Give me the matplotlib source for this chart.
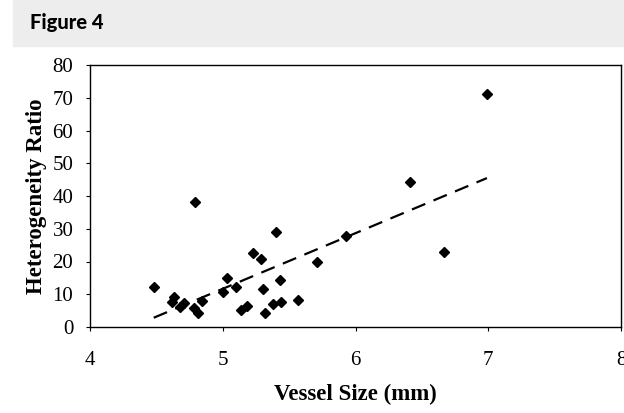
import matplotlib
matplotlib.use('Agg')
import matplotlib.pyplot as plt
import matplotlib.patches as mpatches
import numpy as np

# values
vessel_size = [4.48, 4.63, 4.62, 4.68, 4.71, 4.78, 4.81, 4.84, 4.79, 5.00,
               5.03, 5.10, 5.14, 5.18, 5.23, 5.29, 5.30, 5.32, 5.38, 5.40,
               5.43, 5.44, 5.57, 5.71, 5.93, 6.41, 6.67, 6.99]
het_ratio = [12.1, 9.3, 7.7, 6.2, 7.4, 5.7, 4.4, 8.0, 38.3, 10.8,
             14.9, 12.1, 5.2, 6.5, 22.5, 20.7, 11.5, 4.4, 6.9, 29.1,
             14.4, 7.7, 8.2, 19.8, 27.8, 44.4, 23.0, 71.1]
x_ticks = [4, 5, 6, 7, 8]
y_ticks = [0, 10, 20, 30, 40, 50, 60, 70, 80]

W, H = 624, 413
fig = plt.figure(figsize=(W / 100, H / 100), dpi=100)

# grey header strip
fig.patches.append(mpatches.Rectangle((13 / W, 1 - 46 / H), 1, 46 / H,
                                      transform=fig.transFigure,
                                      color='#ededed', zorder=0))
fig.text(30 / W, 1 - 22 / H, 'Figure 4', fontsize=14.5, fontweight='black',
         family='Lato', va='center', ha='left')

ax = fig.add_axes([90 / W, 1 - 327 / H, (621 - 90) / W, (327 - 65) / H])
serif = 'Liberation Serif'

ax.plot(vessel_size, het_ratio, 'D', color='black', ms=5, mec='black')

# linear trend line over the data range
slope, icpt = np.polyfit(vessel_size, het_ratio, 1)
xs = np.array([min(vessel_size), max(vessel_size)])
ax.plot(xs, slope * xs + icpt, color='black', lw=1.6, dashes=(6.5, 4))

ax.set_xlim(4, 8)
ax.set_ylim(0, 80)
ax.set_xticks(x_ticks)
ax.set_yticks(y_ticks)
ax.set_xticklabels([str(v) for v in x_ticks], family=serif, fontsize=15)
ax.set_yticklabels([str(v) for v in y_ticks], family=serif, fontsize=15)
ax.tick_params(direction='out', length=3, width=0.8)
ax.tick_params(axis='x', pad=14)
ax.tick_params(axis='y', pad=9)
for s in ax.spines.values():
    s.set_linewidth(1.0)

ax.set_xlabel('Vessel Size (mm)', family=serif, fontsize=16.5,
              fontweight='bold', labelpad=10)
ax.set_ylabel('Heterogeneity Ratio', family=serif, fontsize=16.5,
              fontweight='bold', labelpad=4)

fig.savefig('out.png', dpi=100)
